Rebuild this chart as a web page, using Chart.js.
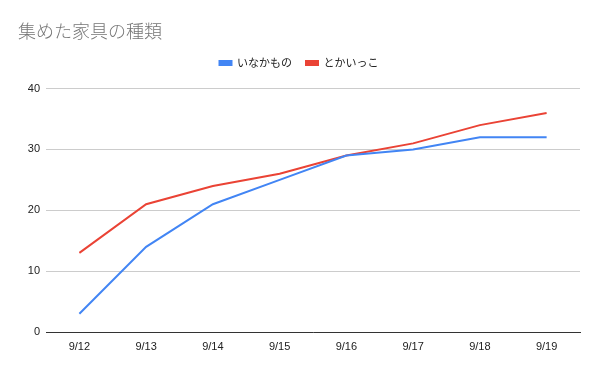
<!DOCTYPE html>
<html>
<head>
<meta charset="utf-8">
<script src="https://cdn.jsdelivr.net/npm/chart.js@4"></script>
<style>
  html, body { margin: 0; padding: 0; background: #fff; }
  #wrap { width: 600px; height: 371px; }
</style>
</head>
<body>
<div id="wrap"><canvas id="chart" width="600" height="371"></canvas></div>
<script>
// Chart data
const titleText = '集めた家具の種類';
const dates = ['9/12', '9/13', '9/14', '9/15', '9/16', '9/17', '9/18', '9/19'];
const inakamonoLabel = 'いなかもの';
const inakamonoValues = [3, 14, 21, 25, 29, 30, 32, 32];
const tokaikkoLabel = 'とかいっこ';
const tokaikkoValues = [13, 21, 24, 26, 29, 31, 34, 36];
const yTicks = [0, 10, 20, 30, 40];

const FONT = 'Arial, "Liberation Sans", "Noto Sans CJK JP", sans-serif';

// add some room under the legend
const legendGap = {
    id: 'legendGap',
    afterInit(chart) {
        const fit = chart.legend.fit;
        chart.legend.fit = function() {
            fit.call(this);
            this.height += 10;
        };
    }
};

const ctx = document.getElementById('chart').getContext('2d');
new Chart(ctx, {
    type: 'line',
    data: {
        labels: dates,
        datasets: [
            {
                label: inakamonoLabel,
                data: inakamonoValues,
                borderColor: '#4285f4',
                backgroundColor: '#4285f4',
                borderWidth: 2,
                pointRadius: 0,
                tension: 0
            },
            {
                label: tokaikkoLabel,
                data: tokaikkoValues,
                borderColor: '#ea4335',
                backgroundColor: '#ea4335',
                borderWidth: 2,
                pointRadius: 0,
                tension: 0
            }
        ]
    },
    options: {
        responsive: false,
        animation: false,
        layout: {
            padding: { left: 18, right: 20, top: 0, bottom: 9 }
        },
        plugins: {
            title: {
                display: true,
                text: titleText,
                align: 'start',
                color: '#757575',
                font: { family: '"Noto Sans CJK JP", sans-serif', size: 18, weight: 300 },
                padding: { top: 20, bottom: 2 }
            },
            legend: {
                position: 'top',
                labels: {
                    boxWidth: 12,
                    boxHeight: 4,
                    color: '#222',
                    padding: 14,
                    font: { family: '"Noto Sans CJK JP", sans-serif', size: 11 }
                }
            },
            tooltip: { enabled: false }
        },
        scales: {
            x: {
                offset: true,
                grid: { display: false, drawTicks: false },
                border: { display: true, color: '#333', width: 1 },
                ticks: {
                    color: '#222',
                    padding: 8,
                    maxRotation: 0,
                    font: { family: FONT, size: 11 }
                },
                afterFit: function(scale) { scale.height = 30; }
            },
            y: {
                min: 0,
                max: 40,
                afterBuildTicks: function(scale) {
                    scale.ticks = yTicks.map(v => ({ value: v }));
                },
                grid: { color: '#cccccc', drawTicks: false },
                border: { display: false },
                ticks: {
                    color: '#222',
                    padding: 6,
                    font: { family: FONT, size: 11 }
                },
                afterFit: function(scale) { scale.width = 28; }
            }
        }
    },
    plugins: [legendGap]
});
</script>
</body>
</html>
